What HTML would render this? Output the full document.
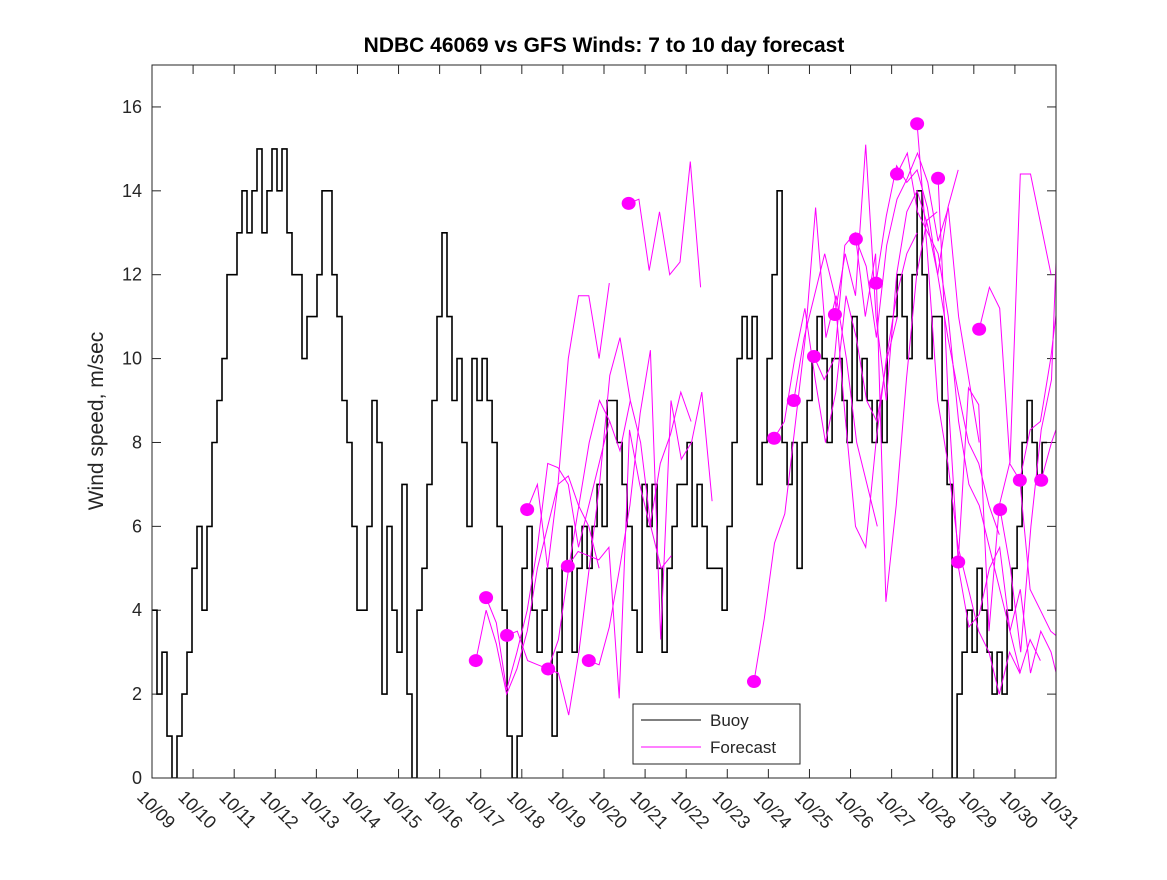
<!DOCTYPE html>
<html><head><meta charset="utf-8"><style>
body{margin:0;background:#fff}
text{font-family:"Liberation Sans","DejaVu Sans",sans-serif;fill:#262626}
</style></head><body>
<svg id="chart" width="1167" height="875" viewBox="0 0 1167 875" xmlns="http://www.w3.org/2000/svg">
<rect width="1167" height="875" fill="#fff"/>
<defs><clipPath id="pc"><rect x="152" y="65" width="904" height="713"/></clipPath></defs>
<rect x="152" y="65" width="904" height="713" fill="#fff"/>
<g id="axes"></g>
<g id="series" clip-path="url(#pc)"></g>
<rect x="152" y="65" width="904" height="713" fill="none" stroke="#262626" stroke-width="1"/>
<text x="604" y="52" text-anchor="middle" font-size="21" font-weight="bold" style="fill:#000">NDBC 46069 vs GFS Winds: 7 to 10 day forecast</text>
<text x="103" y="421" text-anchor="middle" font-size="21" transform="rotate(-90 103 421)">Wind speed, m/sec</text>
<g>
<rect x="633" y="704" width="167" height="60" fill="#fff" stroke="#262626"/>
<line x1="641" y1="720" x2="701" y2="720" stroke="#000"/>
<text x="710" y="726" font-size="17">Buoy</text>
<line x1="641" y1="747" x2="701" y2="747" stroke="#f0f"/>
<text x="710" y="753" font-size="17">Forecast</text>
</g>
</svg>
<script>
const xTickLabels=["10/09","10/10","10/11","10/12","10/13","10/14","10/15","10/16","10/17","10/18","10/19","10/20","10/21","10/22","10/23","10/24","10/25","10/26","10/27","10/28","10/29","10/30","10/31"];
const yTicks=[0,2,4,6,8,10,12,14,16];
const buoyStepDays=0.1217;
const buoy=[4,2,3,1,0,1,2,3,5,6,4,6,8,9,10,12,12,13,14,13,14,15,13,14,15,14,15,13,12,12,10,11,11,12,14,14,12,11,9,8,6,4,4,6,9,8,2,6,4,3,7,2,0,4,5,7,9,11,13,11,9,10,8,6,10,9,10,9,8,6,4,1,0,1,5,6,4,3,4,5,1,3,5,6,3,5,6,5,6,7,6,9,9,8,7,6,4,3,7,6,7,5,3,5,6,7,7,8,6,7,6,5,5,5,4,6,8,10,11,10,11,7,8,10,12,14,8,7,8,5,8,9,10,11,10,8,10,10,9,8,11,9,10,9,8,9,8,11,11,12,11,10,12,14,12,10,11,11,9,7,0,2,3,4,3,5,4,3,2,3,2,4,5,6,8,9,8,7,8];
const fcStepDays=0.25;
const fcStarts=[7.88,8.13,8.64,9.13,9.64,10.12,10.63,11.6,14.65,15.14,15.62,16.11,16.62,17.13,17.62,18.13,18.62,19.13,19.62,20.13,20.64,21.12,21.64];
const fc1=[2.8,4.0,3.2,2.0,2.6,3.5,5.0,6.0,7.0,7.2,6.5,6.0,5.0];
const fc2=[4.3,3.7,2.1,3.0,4.0,5.5,7.5,7.4,7.0,5.5,6.5,7.5,8.5];
const fc3=[3.4,3.5,2.8,2.7,2.6,3.3,5.0,6.5,8.0,9.0,8.5,7.8,9.0];
const fc4=[6.4,7.0,5.0,7.0,10.0,11.5,11.5,10.0,11.8];
const fc5=[2.6,2.5,1.5,3.0,5.0,7.0,9.6,10.5,9.0,8.0,6.0,5.0,5.3];
const fc6=[5.05,5.4,5.3,5.2,5.5,1.9,8.3,7.0,6.0,7.5,8.2,9.2,8.5];
const fc7=[2.8,2.7,3.6,5.0,6.5,8.7,10.2,3.3,9.0,7.6,8.0,9.2,6.6];
const fc8=[13.7,13.8,12.1,13.5,12.0,12.3,14.7,11.7];
const fc9=[2.3,3.8,5.6,6.3,8.4,10.5,13.6,10.5,11.5,10.0,8.0,7.0,6.0];
const fc10=[8.1,8.5,10.0,11.2,9.5,8.0,9.2,11.5,10.5,9.0,8.5,10.0,11.0];
const fc11=[9.0,10.5,11.5,12.5,11.5,8.6,6.0,5.5,8.0,10.0,11.5,12.5,13.0];
const fc12=[10.05,9.5,10.0,12.7,13.0,11.0,12.5,4.2,6.5,9.5,12.0,13.3,13.5];
const fc13=[11.05,12.5,11.5,15.1,11.0,9.0,12.0,13.5,14.0,13.2,12.0,13.6,14.5];
const fc14=[12.85,12.2,10.5,12.7,13.8,14.3,14.9,14.2,12.8,13.6,11.0,9.5,8.0];
const fc15=[11.8,13.4,14.6,14.2,14.5,13.6,12.0,10.5,9.2,8.0,7.5,6.5,5.8];
const fc16=[14.4,14.9,13.5,13.0,12.5,11.0,8.5,7.0,6.5,5.5,4.5,3.5,2.5];
const fc17=[15.6,12.5,9.0,7.5,5.5,4.5,3.5,3.0,2.0,3.0,2.5,3.3,2.8];
const fc18=[14.3,9.0,5.0,3.6,3.9,5.0,5.5,3.5,4.5,2.5,3.5,3.0,2.0];
const fc19=[5.15,9.3,8.9,3.5,6.5,7.5,7.1,4.5,4.0,3.5,3.3,2.0,2.5];
const fc20=[10.7,11.7,11.2,7.5,14.4,14.4,13.2,12.0];
const fc21=[6.4,5.0,3.0,6.0,8.3,9.5,15.9];
const fc22=[7.1,8.3,8.5,10.0,12.0,15.0];
const fc23=[7.1,8.0,8.7,8.3];
const fcValues=[fc1,fc2,fc3,fc4,fc5,fc6,fc7,fc8,fc9,fc10,fc11,fc12,fc13,fc14,fc15,fc16,fc17,fc18,fc19,fc20,fc21,fc22,fc23];

const X0=152,X1=1056,Y0=778,Y1=65,DAYS=22,YMAX=17;
const xs=d=>X0+d*(X1-X0)/DAYS;
const ys=v=>Y0-v*(Y0-Y1)/YMAX;
const NS="http://www.w3.org/2000/svg";
function mk(tag,attrs,parent){const e=document.createElementNS(NS,tag);for(const k in attrs)e.setAttribute(k,attrs[k]);parent.appendChild(e);return e;}
const axes=document.getElementById('axes');
const series=document.getElementById('series');
xTickLabels.forEach((lab,i)=>{
  const x=xs(i);
  const t1=mk('line',{x1:x,y1:Y0,x2:x,y2:Y0-9,stroke:'#262626'},axes);
  
  
  const t2=mk('line',{x1:x,y1:Y1,x2:x,y2:Y1+9,stroke:'#262626'},axes);
  
  
  const tx=mk('text',{x:x-16,y:Y0+20,'font-size':18,transform:`rotate(45 ${x-16} ${Y0+20})`},axes);
  tx.textContent=lab;
  
  
});
yTicks.forEach(v=>{
  const y=ys(v);
  const t1=mk('line',{x1:X0,y1:y,x2:X0+9,y2:y,stroke:'#262626'},axes);
  
  
  const t2=mk('line',{x1:X1,y1:y,x2:X1-9,y2:y,stroke:'#262626'},axes);
  
  
  const tx=mk('text',{x:X0-10,y:y+6,'font-size':18,'text-anchor':'end'},axes);
  tx.textContent=v;
  
  
});
let d='';
buoy.forEach((v,i)=>{
  const xa=xs(i*buoyStepDays),xb=xs((i+1)*buoyStepDays);
  d+=(i===0?'M':'L')+xa.toFixed(1)+','+ys(v).toFixed(1)+'L'+xb.toFixed(1)+','+ys(v).toFixed(1);
});
const bp=mk('path',{d:d,fill:'none',stroke:'#000','stroke-width':1.6},series);


fcValues.forEach((arr,k)=>{
  const s=fcStarts[k];
  const pts=arr.map((v,j)=>xs(s+j*fcStepDays).toFixed(1)+','+ys(v).toFixed(1)).join(' ');
  const pl=mk('polyline',{points:pts,fill:'none',stroke:'#f0f','stroke-width':1},series);
  
  
});
fcValues.forEach((arr,k)=>{
  const c=mk('ellipse',{cx:xs(fcStarts[k]),cy:ys(arr[0]),rx:7,ry:6.5,fill:'#f0f'},series);
  
  
});
</script>
</body></html>
